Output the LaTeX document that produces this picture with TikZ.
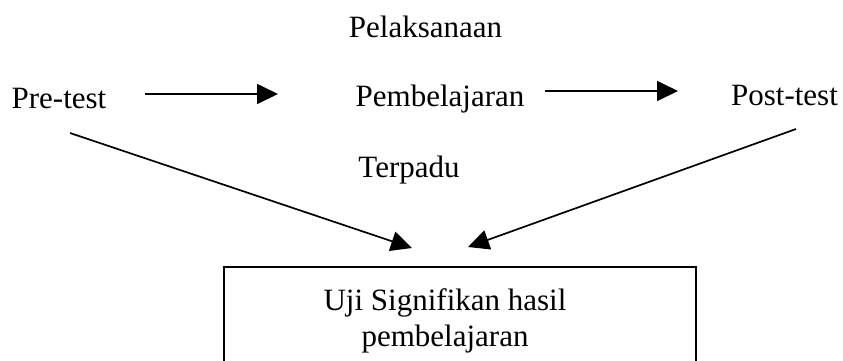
\documentclass[tikz,border=0pt]{standalone}
\usepackage{fontspec}
\setmainfont{Liberation Serif}
\usetikzlibrary{arrows.meta}
\begin{document}
\begin{tikzpicture}[x=1pt,y=-1pt,
  lbl/.style={inner sep=0pt,anchor=base,font=\fontsize{31}{36}\selectfont},
  arr/.style={line width=1.7pt,-{Triangle[length=21pt,width=20pt]}},
  frame/.style={draw,line width=1.5pt,inner sep=0pt}]
  \clip (0,0) rectangle (843,360);
  \fill[white] (0,0) rectangle (843,360);

  % labels of the flow
  \node[lbl] (pel)  at (425.5,37)  {Pelaksanaan};
  \node[lbl] (pre)  at (59,108)    {Pre-test};
  \node[lbl] (pemb) at (440,106)   {Pembelajaran};
  \node[lbl] (post) at (784.5,105) {Post-test};
  \node[lbl] (ter)  at (409,177)   {Terpadu};

  % result box, running past the lower edge
  \node[frame,anchor=north west,minimum width=472pt,minimum height=140pt] (box) at (223,266) {};
  \node[inner sep=0pt,align=center,font=\fontsize{31}{36}\selectfont] (boxtext) at (445,321)
    {Uji Signifikan hasil\\pembelajaran};

  % connector end points
  \coordinate (a1s) at (145,94);  \coordinate (a1e) at (278,94);
  \coordinate (a2s) at (545,91);  \coordinate (a2e) at (678,91);
  \coordinate (d1s) at (70,133);  \coordinate (d1e) at (412,248);
  \coordinate (d2s) at (796,129); \coordinate (d2e) at (468,247);

  \draw[arr] (a1s) -- (a1e);
  \draw[arr] (a2s) -- (a2e);
  \draw[arr] (d1s) -- (d1e);
  \draw[arr] (d2s) -- (d2e);
\end{tikzpicture}
\end{document}
